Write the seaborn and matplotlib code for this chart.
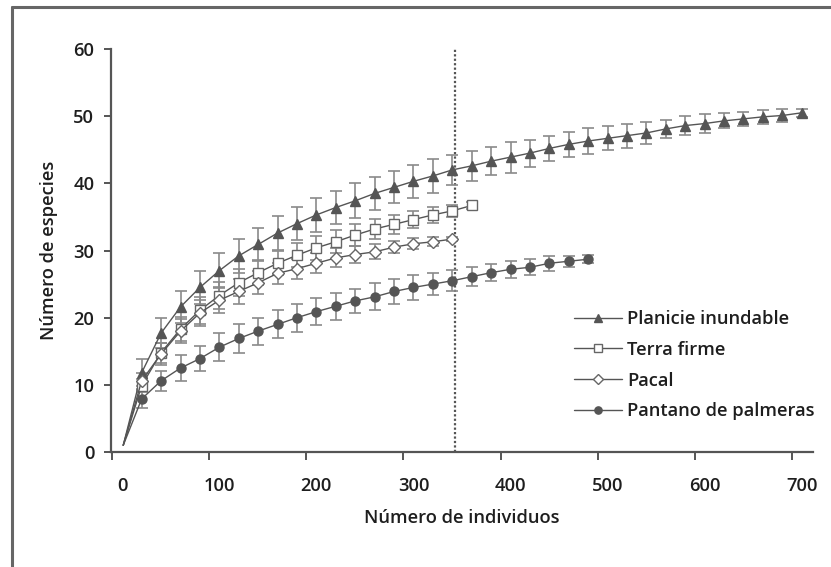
import numpy as np
import pandas as pd
import matplotlib
matplotlib.use("Agg")
import matplotlib.pyplot as plt
import seaborn as sns
from matplotlib.lines import Line2D

# ---------------- data ----------------
series_names = ["Planicie inundable", "Terra firme", "Pacal", "Pantano de palmeras"]

x_planicie = [20, 40, 60, 80, 100, 120, 140, 160, 180, 200, 220, 240, 260, 280, 300, 320, 340,
              360, 380, 400, 420, 440, 460, 480, 500, 520, 540, 560, 580, 600, 620, 640, 660, 680, 700]
y_planicie = [11.8, 17.7, 21.6, 24.5, 27.0, 29.2, 30.9, 32.6, 34.0, 35.3, 36.4, 37.4, 38.5, 39.4, 40.3, 41.1, 42.0,
              42.6, 43.3, 43.9, 44.5, 45.2, 45.8, 46.3, 46.7, 47.1, 47.5, 48.1, 48.6, 48.9, 49.3, 49.6, 49.9, 50.1, 50.5]
e_planicie = [2.0, 2.2, 2.4, 2.5, 2.6, 2.5, 2.5, 2.5, 2.5, 2.5, 2.5, 2.6, 2.4, 2.4, 2.5, 2.5, 2.2,
              2.2, 2.1, 2.3, 2.0, 1.9, 1.9, 1.9, 1.8, 1.8, 1.7, 1.4, 1.4, 1.4, 1.1, 1.0, 1.0, 1.0, 0.6]

x_terra = [20, 40, 60, 80, 100, 120, 140, 160, 180, 200, 220, 240, 260, 280, 300, 320, 340, 360]
y_terra = [9.9, 14.8, 18.3, 21.1, 23.3, 25.2, 26.7, 28.1, 29.3, 30.4, 31.3, 32.3, 33.2, 33.9, 34.6, 35.3, 35.9, 36.7]
e_terra = [1.0, 1.5, 1.8, 2.0, 2.0, 2.0, 1.9, 1.8, 1.8, 1.8, 1.7, 1.6, 1.5, 1.4, 1.3, 1.2, 0.9, 0.5]

x_pacal = [20, 40, 60, 80, 100, 120, 140, 160, 180, 200, 220, 240, 260, 280, 300, 320, 340]
y_pacal = [10.6, 14.6, 18.0, 20.7, 22.6, 23.9, 25.2, 26.6, 27.3, 28.1, 28.9, 29.4, 29.8, 30.5, 31.0, 31.3, 31.7]
e_pacal = [1.2, 1.6, 1.8, 1.9, 1.9, 1.8, 1.7, 1.6, 1.5, 1.5, 1.4, 1.3, 1.1, 0.9, 0.8, 0.7, 0.3]

x_pantano = [20, 40, 60, 80, 100, 120, 140, 160, 180, 200, 220, 240, 260, 280, 300, 320, 340, 360,
             380, 400, 420, 440, 460, 480]
y_pantano = [7.9, 10.6, 12.5, 13.9, 15.6, 16.9, 18.0, 19.0, 20.0, 20.9, 21.7, 22.5, 23.1, 23.9, 24.5, 25.0, 25.5, 26.1,
             26.7, 27.2, 27.5, 28.1, 28.4, 28.7]
e_pantano = [1.3, 1.5, 1.9, 1.9, 2.1, 2.1, 2.0, 2.1, 2.1, 2.0, 2.0, 1.8, 2.0, 1.8, 1.8, 1.6, 1.6, 1.4,
             1.3, 1.3, 1.2, 1.1, 0.8, 0.6]

start_x = 1
start_y = 1
cutoff_x = 343

x_ticklabels = ["0", "100", "200", "300", "400", "500", "600", "700"]
x_labelpos = [0, 100, 200, 300, 400, 500, 600, 700]
y_ticks = [0, 10, 20, 30, 40, 50, 60]

# ---------------- style ----------------
sns.set_theme(style="white")
plt.rcParams['font.family'] = ['Open Sans', 'DejaVu Sans']
plt.rcParams['font.weight'] = 'semibold'
plt.rcParams['axes.labelweight'] = 'semibold'

DARK = "#555555"
ERR = "#8a8a8a"
TXT = "#1e1e1e"
FS = 13.2

fig = plt.figure(figsize=(8.31, 5.67), dpi=100)
ax = fig.add_axes([111 / 831, 1 - 452 / 567, (813 - 111) / 831, (452 - 49) / 567])

styles = [
    dict(marker="^", ms=7.5, mfc=DARK, mec=DARK),
    dict(marker="s", ms=6.5, mfc="white", mec="#666666"),
    dict(marker="D", ms=6.5, mfc="white", mec="#666666"),
    dict(marker="o", ms=6.5, mfc=DARK, mec=DARK),
]
xs = [x_planicie, x_terra, x_pacal, x_pantano]
ys = [y_planicie, y_terra, y_pacal, y_pantano]
es = [e_planicie, e_terra, e_pacal, e_pantano]

handles = []
for name, x, y, e, st in zip(series_names, xs, ys, es, styles):
    ax.errorbar(x, y, yerr=e, fmt="none", ecolor=ERR, elinewidth=1.2, capsize=4, capthick=1.2, zorder=2)
    df = pd.DataFrame({"x": [start_x] + list(x), "y": [start_y] + list(y)})
    sns.lineplot(data=df, x="x", y="y", ax=ax, color=DARK, lw=1.0, marker=st["marker"],
                 markersize=st["ms"], markerfacecolor=st["mfc"], markeredgecolor=st["mec"],
                 markeredgewidth=1.0, markevery=slice(1, None), zorder=3, legend=False)
    handles.append(Line2D([0], [0], color=DARK, lw=1.0, marker=st["marker"],
                          markersize=st["ms"] * 0.8, markerfacecolor=st["mfc"],
                          markeredgecolor=st["mec"], markeredgewidth=1.0, label=name))

ax.axvline(cutoff_x, color=DARK, lw=1.6, ls=(0, (1, 1)), ymin=0, ymax=1, zorder=1)

ax.set_xlim(-11.6, 711.6)
ax.set_ylim(0, 60)

for s in ["top", "right"]:
    ax.spines[s].set_visible(False)
for s in ["left", "bottom"]:
    ax.spines[s].set_color(DARK)
    ax.spines[s].set_linewidth(1.6)

ax.set_yticks(y_ticks)
ax.set_yticklabels([str(v) for v in y_ticks])
ax.tick_params(axis="y", which="major", direction="out", length=5, width=1.4, color=DARK,
               pad=7, labelsize=FS, labelcolor=TXT, left=True)

ax.set_xticks(x_labelpos)
ax.set_xticklabels(x_ticklabels)
ax.tick_params(axis="x", which="major", length=0, pad=18, labelsize=FS, labelcolor=TXT)
ax.set_xticks(np.arange(8) * 100.2 - 11, minor=True)
ax.tick_params(axis="x", which="minor", direction="out", length=6, width=1.4, color=DARK, bottom=True)

ax.set_xlabel("Número de individuos", fontsize=FS, color=TXT, labelpad=10, fontweight="semibold")
ax.set_ylabel("Número de especies", fontsize=FS, color=TXT, labelpad=11, fontweight="semibold")
ax.grid(False)

leg = fig.legend(handles=handles, loc="upper left", bbox_to_anchor=(574 / 831, 1 - 310 / 567),
                 frameon=False, fontsize=FS, handlelength=2.6, handletextpad=0.3,
                 labelspacing=0.7, borderpad=0, borderaxespad=0)
for t in leg.get_texts():
    t.set_color(TXT)

# figure frame (top and left)
fig.add_artist(Line2D([11.5 / 831, 11.5 / 831], [0, 1 - 6.5 / 567], color="#666666", lw=2.2,
                      transform=fig.transFigure))
fig.add_artist(Line2D([11.5 / 831, 1], [1 - 6.5 / 567, 1 - 6.5 / 567], color="#666666", lw=2.2,
                      transform=fig.transFigure))

fig.savefig("out.png", dpi=100)
